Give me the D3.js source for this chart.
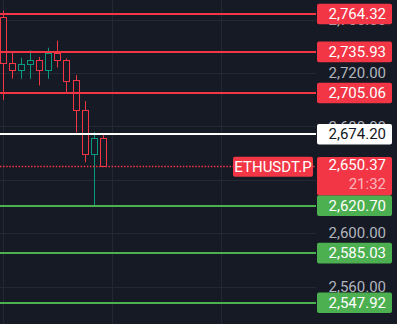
<!DOCTYPE html>
<html>
<head>
<meta charset="utf-8">
<script src="https://cdn.jsdelivr.net/npm/d3@7"></script>
<style>
  html, body { margin: 0; padding: 0; background: #161a25; }
  svg { display: block; }
  text { font-family: Roboto, "Liberation Sans", sans-serif; }
</style>
</head>
<body>
<div id="chart"></div>
<script>
// candles (oldest first)
var opens  = [2762.3, 2727.6, 2722.3, 2726.8, 2729.8, 2722.3, 2735.1, 2730.0, 2714.8, 2692.3, 2659.2, 2671.2];
var highs  = [2766.8, 2736.3, 2731.5, 2737.0, 2732.1, 2739.0, 2744.3, 2731.0, 2718.5, 2699.0, 2675.8, 2673.5];
var lows   = [2700.0, 2715.8, 2715.8, 2715.8, 2710.7, 2715.8, 2724.2, 2705.3, 2675.5, 2653.2, 2620.4, 2650.37];
var closes = [2727.8, 2722.0, 2726.8, 2729.8, 2722.3, 2735.1, 2729.8, 2714.3, 2692.3, 2659.2, 2671.2, 2650.37];

// horizontal levels
var levelValues = [2764.32, 2735.93, 2705.06, 2674.20, 2620.70, 2585.03, 2547.92];
var levelKinds  = ['res', 'res', 'res', 'pivot', 'sup', 'sup', 'sup'];

var priceTicks = [2560, 2600, 2640, 2680, 2720, 2760];
var timeGrid = [0, 12, 24]; // bar index of the vertical grid lines

var symbol = 'ETHUSDT.P';
var lastPrice = 2650.37;
var countdown = '21:32';

/* ---------------- layout ---------------- */
var width = 397, height = 324;
var plotRight = 316;          // right edge of the pane
var axisLeft = 317;           // price scale starts here
var red = '#f23645', green = '#4caf50', teal = '#089981', bg = '#161a25';
var kindColor = { res: red, pivot: '#ffffff', sup: green };

var fmt = d3.format(',.2f');

var y = d3.scaleLinear().domain([2600, 2720]).range([233.2, 73.1]);
var x = d3.scaleLinear().domain([0, 24]).range([2.7, 221.3]);
var bodyW = 6;

var svg = d3.select('#chart').append('svg')
  .attr('width', width)
  .attr('height', height);

svg.append('rect').attr('width', width).attr('height', height).attr('fill', bg);

var pane = svg.append('g');
pane.append('clipPath').attr('id', 'pane-clip')
  .append('rect').attr('x', 0).attr('y', 0).attr('width', plotRight).attr('height', height);
pane.attr('clip-path', 'url(#pane-clip)');

// grid
pane.selectAll('.hgrid').data(priceTicks).enter().append('line')
  .attr('x1', 0).attr('x2', plotRight)
  .attr('y1', function(d) { return Math.round(y(d)) + 0.5; })
  .attr('y2', function(d) { return Math.round(y(d)) + 0.5; })
  .attr('stroke', '#242834').attr('stroke-width', 1);

pane.selectAll('.vgrid').data(timeGrid).enter().append('line')
  .attr('y1', 0).attr('y2', height)
  .attr('x1', function(d) { return Math.round(x(d)) + 0.5; })
  .attr('x2', function(d) { return Math.round(x(d)) + 0.5; })
  .attr('stroke', '#242834').attr('stroke-width', 1);

// candles
var bars = d3.range(opens.length).map(function(i) {
  return { i: i, o: opens[i], h: highs[i], l: lows[i], c: closes[i] };
});

var candle = pane.selectAll('.candle').data(bars).enter().append('g');

candle.append('line')
  .attr('x1', function(d) { return Math.round(x(d.i)) + 0.5; })
  .attr('x2', function(d) { return Math.round(x(d.i)) + 0.5; })
  .attr('y1', function(d) { return y(d.h); })
  .attr('y2', function(d) { return y(d.l); })
  .attr('stroke', function(d) { return d.c >= d.o ? teal : red; })
  .attr('stroke-width', 1);

candle.append('rect')
  .attr('x', function(d) { return Math.round(x(d.i)) - bodyW / 2 + 0.5; })
  .attr('y', function(d) { return Math.round(y(Math.max(d.o, d.c))) + 0.5; })
  .attr('width', bodyW)
  .attr('height', function(d) { return Math.max(1, Math.round(y(Math.min(d.o, d.c))) - Math.round(y(Math.max(d.o, d.c)))); })
  .attr('fill', bg)
  .attr('stroke', function(d) { return d.c >= d.o ? teal : red; })
  .attr('stroke-width', 1);

// last price dotted line
pane.append('line')
  .attr('x1', 0).attr('x2', plotRight)
  .attr('y1', Math.round(y(lastPrice)) + 0.5).attr('y2', Math.round(y(lastPrice)) + 0.5)
  .attr('stroke', red).attr('stroke-width', 1.4)
  .attr('stroke-dasharray', '1.5,1.6');

// level lines
pane.selectAll('.level').data(levelValues).enter().append('line')
  .attr('x1', 0).attr('x2', plotRight)
  .attr('y1', function(d) { return Math.round(y(d)); })
  .attr('y2', function(d) { return Math.round(y(d)); })
  .attr('stroke', function(d, i) { return kindColor[levelKinds[i]]; })
  .attr('stroke-width', 2);

// price scale tick labels (the one fully under the last-price tag is not drawn)
var ly = y(lastPrice);
var visibleTicks = priceTicks.filter(function(d) {
  var ty = y(d);
  return !(ty - 6 > ly - 9 && ty + 6 < ly + 29);
});
svg.selectAll('.tick').data(visibleTicks).enter().append('text')
  .attr('x', 386).attr('y', function(d) { return y(d); })
  .attr('dy', '0.35em')
  .attr('text-anchor', 'end')
  .attr('font-size', 15)
  .attr('fill', '#b2b5be')
  .text(fmt);

// level labels
var labels = svg.selectAll('.lbl').data(levelValues).enter().append('g');
labels.append('rect')
  .attr('x', axisLeft).attr('width', 75)
  .attr('y', function(d) { return y(d) - 10.3; })
  .attr('height', 20.6).attr('rx', 2)
  .attr('fill', function(d, i) { return kindColor[levelKinds[i]]; });
labels.append('text')
  .attr('x', 386).attr('y', function(d) { return y(d); })
  .attr('dy', '0.35em')
  .attr('text-anchor', 'end')
  .attr('font-size', 15)
  .attr('fill', function(d, i) { return levelKinds[i] === 'pivot' ? '#131722' : '#ffffff'; })
  .text(fmt);

// last price label + countdown
svg.append('rect')
  .attr('x', axisLeft).attr('y', ly - 9).attr('width', 75).attr('height', 38.3).attr('rx', 2)
  .attr('fill', red);
svg.append('text')
  .attr('x', 386).attr('y', ly - 1).attr('dy', '0.35em')
  .attr('text-anchor', 'end').attr('font-size', 15).attr('fill', '#ffffff')
  .text(fmt(lastPrice));
svg.append('text')
  .attr('x', 386).attr('y', ly + 17.5).attr('dy', '0.35em')
  .attr('text-anchor', 'end').attr('font-size', 15).attr('fill', '#ffffff').attr('fill-opacity', 0.65)
  .text(countdown);

// symbol tag
svg.append('rect')
  .attr('x', 233).attr('y', ly - 9.3).attr('width', 80).attr('height', 20).attr('rx', 2)
  .attr('fill', red);
svg.append('text')
  .attr('x', 273).attr('y', ly + 0.7).attr('dy', '0.35em')
  .attr('text-anchor', 'middle').attr('font-size', 15).attr('fill', '#ffffff')
  .text(symbol);
</script>
</body>
</html>
